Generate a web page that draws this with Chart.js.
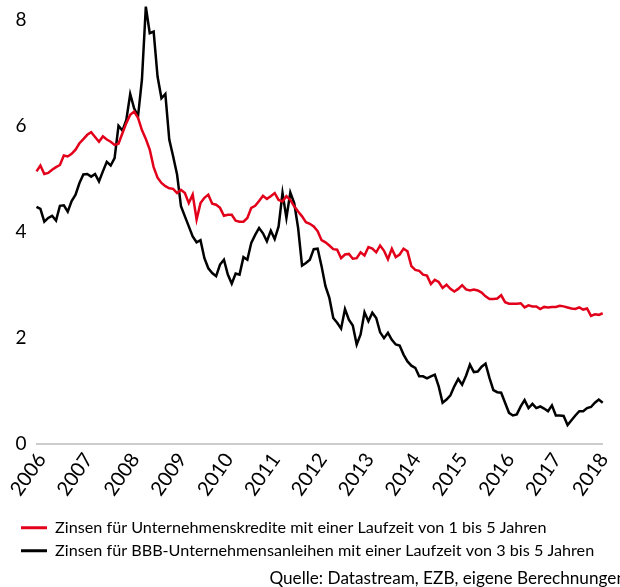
<!DOCTYPE html>
<html><head><meta charset="utf-8">
<script src="https://cdn.jsdelivr.net/npm/chart.js@4/dist/chart.umd.min.js"></script>
<style>
html,body{margin:0;padding:0;overflow:hidden;background:#fff;width:620px;height:587px}
#wrap{width:626px;height:587px}
</style></head>
<body><div id="wrap"><canvas id="c" width="626" height="587"></canvas></div>
<script>
const yearLabels = ['2006','2007','2008','2009','2010','2011','2012','2013','2014','2015','2016','2017','2018'];
const monthNames = ['01','02','03','04','05','06','07','08','09','10','11','12'];
const seriesNames = [
  'Zinsen für Unternehmenskredite mit einer Laufzeit von 1 bis 5 Jahren',
  'Zinsen für BBB-Unternehmensanleihen mit einer Laufzeit von 3 bis 5 Jahren'
];
const sourceText = 'Quelle: Datastream, EZB, eigene Berechnungen';
const yTickValues = [0, 2, 4, 6, 8];

// Zinsen für Unternehmenskredite (1-5 Jahre), monthly from Jan 2006
const kreditZinsen = [
  5.14,5.25,5.09,5.11,5.17,5.22,5.26,5.44,5.42,5.47,
  5.55,5.67,5.75,5.83,5.88,5.79,5.70,5.80,5.74,5.70,
  5.64,5.66,5.86,6.05,6.21,6.27,6.15,5.92,5.75,5.55,
  5.22,5.02,4.92,4.86,4.82,4.81,4.73,4.79,4.73,4.54,
  4.70,4.23,4.54,4.64,4.70,4.53,4.51,4.45,4.30,4.32,
  4.32,4.21,4.19,4.19,4.26,4.45,4.49,4.58,4.68,4.62,
  4.67,4.73,4.60,4.57,4.67,4.60,4.48,4.38,4.29,4.18,
  4.15,4.10,4.01,3.84,3.80,3.74,3.67,3.66,3.50,3.57,
  3.58,3.49,3.50,3.61,3.55,3.71,3.68,3.61,3.74,3.64,
  3.48,3.68,3.52,3.57,3.68,3.63,3.35,3.28,3.26,3.19,
  3.17,3.01,3.09,3.05,2.94,3.00,2.92,2.87,2.92,2.99,
  2.91,2.89,2.91,2.89,2.85,2.78,2.73,2.73,2.74,2.80,
  2.67,2.64,2.64,2.64,2.65,2.57,2.61,2.59,2.59,2.54,
  2.58,2.57,2.58,2.58,2.60,2.59,2.57,2.55,2.54,2.57,
  2.53,2.55,2.41,2.44,2.43,2.46
];
// Zinsen für BBB-Unternehmensanleihen (3-5 Jahre), monthly from Jan 2006
const anleiheZinsen = [
  4.47,4.43,4.19,4.26,4.30,4.21,4.49,4.50,4.38,4.58,
  4.70,4.92,5.08,5.09,5.04,5.09,4.95,5.14,5.32,5.25,
  5.39,6.00,5.91,6.11,6.60,6.33,6.18,6.87,8.25,7.75,
  7.78,6.93,6.52,6.60,5.74,5.42,5.08,4.48,4.29,4.10,
  3.91,3.80,3.84,3.50,3.31,3.22,3.16,3.38,3.47,3.19,
  3.02,3.21,3.19,3.52,3.47,3.79,3.94,4.07,3.97,3.82,
  4.02,3.86,4.10,4.73,4.26,4.74,4.54,4.07,3.36,3.41,
  3.47,3.67,3.68,3.35,2.97,2.75,2.37,2.28,2.17,2.54,
  2.34,2.23,1.87,2.06,2.48,2.31,2.47,2.37,2.10,1.99,
  2.09,1.96,1.87,1.85,1.68,1.55,1.47,1.43,1.27,1.27,
  1.23,1.27,1.30,1.08,0.77,0.83,0.91,1.08,1.22,1.11,
  1.28,1.49,1.35,1.36,1.45,1.51,1.24,1.01,0.97,0.96,
  0.77,0.58,0.53,0.55,0.70,0.82,0.67,0.75,0.67,0.70,
  0.66,0.61,0.72,0.53,0.53,0.52,0.35,0.44,0.53,0.61,
  0.61,0.67,0.69,0.77,0.83,0.77
];

const categories = [];
for (let i = 0; i < kreditZinsen.length; i++) {
  categories.push(yearLabels[Math.floor(i / 12)] + '-' + monthNames[i % 12]);
}

const FONT = 'Lato';
const RED = '#e2001a';
const BLACK = '#000000';

new Chart(document.getElementById('c'), {
  type: 'line',
  data: {
    labels: categories,
    datasets: [
      { label: seriesNames[0], data: kreditZinsen, borderColor: RED, backgroundColor: RED,
        borderWidth: 2.5, pointRadius: 0, tension: 0, yAxisID: 'y' },
      { label: seriesNames[1], data: anleiheZinsen, borderColor: BLACK, backgroundColor: BLACK,
        borderWidth: 2.5, pointRadius: 0, tension: 0, yAxisID: 'y' }
    ]
  },
  options: {
    responsive: false,
    animation: false,
    devicePixelRatio: 1,
    layout: { padding: { left: 14, top: 4, right: 0, bottom: 0 } },
    plugins: {
      tooltip: { enabled: false },
      legend: {
        position: 'bottom',
        align: 'start',
        labels: {
          boxWidth: 26, boxHeight: 3, padding: 7, color: '#000',
          font: { family: FONT, size: 16.2 },
          generateLabels: (chart) => Chart.defaults.plugins.legend.labels.generateLabels(chart)
            .map(l => Object.assign(l, { lineWidth: 0, strokeStyle: 'rgba(0,0,0,0)' }))
        }
      },
      title: {
        display: true,
        text: sourceText,
        position: 'bottom',
        align: 'end',
        color: '#000',
        padding: { top: 0, bottom: 0 },
        font: { family: FONT, size: 17.2, weight: 'normal', lineHeight: 1.05 }
      }
    },
    scales: {
      x: {
        type: 'category',
        offset: false,
        grid: { display: false, drawTicks: false },
        border: { display: true, color: '#cccccc', width: 2 },
        ticks: {
          autoSkip: false, maxRotation: 55, minRotation: 55, padding: 5, labelOffset: 5,
          color: '#000', font: { family: FONT, size: 20 },
          callback: function (value) {
            const lab = this.getLabelForValue(value);
            return lab.endsWith('-01') ? lab.slice(0, 4) : '';
          }
        },
        afterFit: (s) => { s.height = 69; s.paddingLeft = 0; s.paddingRight = 0; }
      },
      y: {
        position: 'left',
        min: 0, max: 8.3,
        grid: { display: false, drawTicks: false },
        border: { display: false },
        afterBuildTicks: (s) => { s.ticks = yTickValues.map(v => ({ value: v })); },
        ticks: { padding: 10, color: '#000', font: { family: FONT, size: 19 } },
        afterFit: (s) => { s.width = 22.5; s.paddingTop = 0; s.paddingBottom = 0; }
      },
      yR: {
        position: 'right',
        display: true,
        grid: { display: false, drawTicks: false },
        border: { display: false },
        ticks: { display: false },
        afterFit: (s) => { s.width = 23.3; s.paddingTop = 0; s.paddingBottom = 0; }
      }
    }
  }
});
</script>
</body></html>
